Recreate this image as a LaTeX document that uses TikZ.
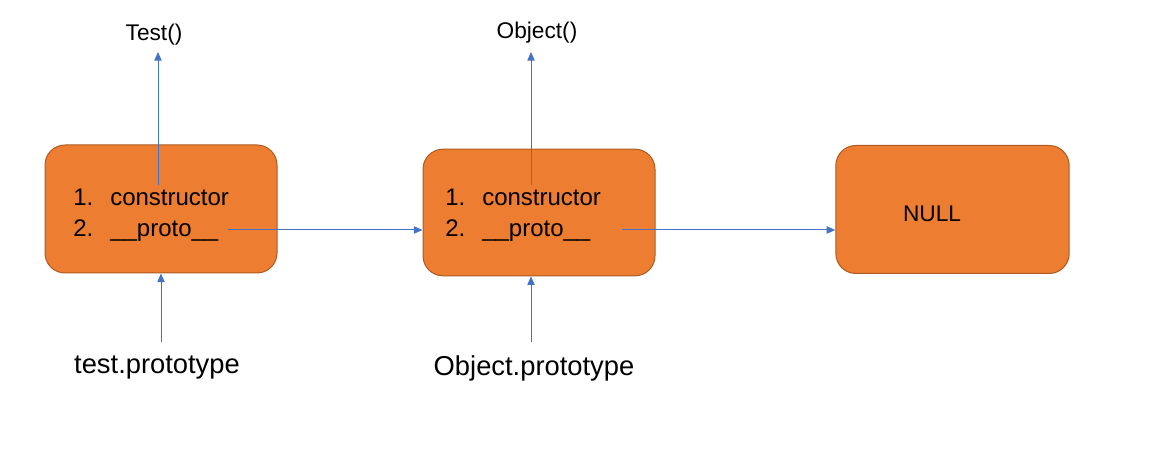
\documentclass[tikz,border=0pt]{standalone}
\usepackage{fontspec}
\setmainfont{Liberation Sans}
\usetikzlibrary{arrows.meta}
\definecolor{boxfill}{HTML}{ED7D31}
\definecolor{boxline}{HTML}{AE5A21}
\definecolor{arrowblue}{HTML}{4472C4}
\tikzset{
  objbox/.style={draw=boxline, fill=boxfill, line width=0.75pt, rounded corners=15pt,
    minimum width=174pt, minimum height=96pt, inner sep=0pt},
  link/.style={arrowblue, line width=0.75pt, -{Triangle[length=6.5pt,width=5.5pt]}},
  item/.style={anchor=base west, inner sep=0pt, font=\fontsize{18}{20}\selectfont},
  fnlabel/.style={inner sep=0pt, font=\fontsize{17}{20}\selectfont},
  protolabel/.style={inner sep=0pt, font=\fontsize{20.5}{24}\selectfont},
}
\begin{document}
\begin{tikzpicture}[x=0.75pt,y=-0.75pt]
\useasboundingbox (0,0) rectangle (1161,459);
% the three objects
\node[objbox] (box1) at (161,209) {};
\node[objbox, minimum height=95pt] (box2) at (539,212.5) {};
\node[objbox, minimum width=175pt] (box3) at (952.5,209.5) {};
% box1 entries
\node[item] (num1a) at (73,206) {1.};
\node[item] (con1) at (110,206) {constructor};
\node[item] (num1b) at (73,237) {2.};
\node[item] (pro1) at (110,237) {\_\_proto\_\_};
% box2 entries
\node[item] (num2a) at (445,206) {1.};
\node[item] (con2) at (482,206) {constructor};
\node[item] (num2b) at (445,237) {2.};
\node[item] (pro2) at (482,237) {\_\_proto\_\_};
\node[item, anchor=center, font=\fontsize{17}{20}\selectfont] (null) at (932,214) {NULL};
% labels
\node[fnlabel] (testfn) at (154,35) {Test()};
\node[fnlabel] (objfn) at (537,33) {Object()};
\node[protolabel] (testproto) at (157,368) {test.prototype};
\node[protolabel] (objproto) at (534,368) {Object.prototype};
% arrow ends
\coordinate (c1) at (158,185);
\coordinate (c2) at (531,185);
\coordinate (t1) at (158,52);
\coordinate (t2) at (531,52);
\coordinate (p1) at (228,230);
\coordinate (p2) at (622,230);
\coordinate (s1) at (161,342);
\coordinate (s2) at (531,342);
% constructor links
\draw[link] (c1) -- (t1);
\draw[link] (c2) -- (t2);
% __proto__ links
\draw[link] (p1) -- (p1 -| box2.west);
\draw[link] (p2) -- (p2 -| box3.west);
% prototype links
\draw[link] (s1) -- (s1 |- box1.south);
\draw[link] (s2) -- (s2 |- box2.south);
\end{tikzpicture}
\end{document}
